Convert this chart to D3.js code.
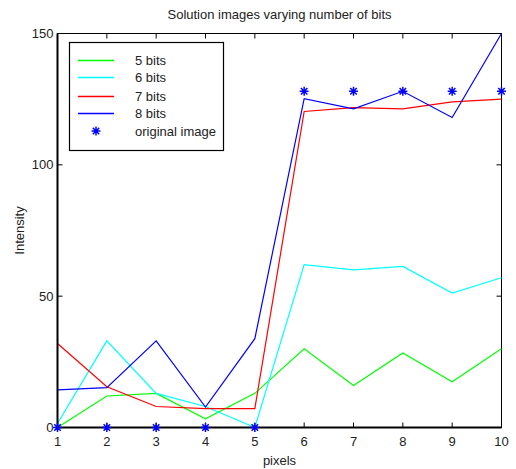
<!DOCTYPE html>
<html>
<head>
<meta charset="utf-8">
<script src="https://cdn.jsdelivr.net/npm/d3@7"></script>
<style>
  body { margin: 0; background: #fff; }
  text { font-family: "Liberation Sans", Arial, sans-serif; fill: #222; font-size: 13px; }
</style>
</head>
<body>
<svg id="chart" width="516" height="469"></svg>
<script>
// data
var pixels = [1, 2, 3, 4, 5, 6, 7, 8, 9, 10];
var bits5 = [0, 12, 13, 3.3, 13, 30, 16, 28.4, 17.4, 30];
var bits6 = [1.5, 33, 13, 8, 0, 62, 60, 61.3, 51.2, 57];
var bits7 = [32, 15.5, 8, 7.2, 7.2, 120.3, 121.8, 121.3, 124, 125];
var bits8 = [14.3, 15.2, 33, 7.8, 33.8, 125.2, 121.3, 128, 118, 150];
var original = [0, 0, 0, 0, 0, 128, 128, 128, 128, 128];
var yTicks = [0, 50, 100, 150];

var series = [
  { name: "5 bits", values: bits5, color: "#00ff00" },
  { name: "6 bits", values: bits6, color: "#00ffff" },
  { name: "7 bits", values: bits7, color: "#ff0000" },
  { name: "8 bits", values: bits8, color: "#0000ff" }
];

var svg = d3.select("#chart");
var plotL = 57.5, plotR = 501.5, plotT = 33.5, plotB = 427.5;

var x = d3.scaleLinear().domain([1, 10]).range([plotL, plotR]);
var y = d3.scaleLinear().domain([0, 150]).range([plotB, plotT]);

// title
svg.append("text")
  .attr("x", (plotL + plotR) / 2).attr("y", 18.5)
  .attr("text-anchor", "middle")
  .text("Solution images varying number of bits");

// box (top + right thin)
svg.append("rect")
  .attr("x", plotL).attr("y", plotT)
  .attr("width", plotR - plotL).attr("height", plotB - plotT)
  .attr("fill", "none").attr("stroke", "#000").attr("stroke-width", 1);

// inward ticks on all four sides
var tickLen = 5;
pixels.forEach(function(p) {
  svg.append("line").attr("x1", x(p)).attr("x2", x(p))
    .attr("y1", plotB).attr("y2", plotB - tickLen).attr("stroke", "#000");
  svg.append("line").attr("x1", x(p)).attr("x2", x(p))
    .attr("y1", plotT).attr("y2", plotT + tickLen).attr("stroke", "#000");
});
yTicks.forEach(function(t) {
  svg.append("line").attr("x1", plotL).attr("x2", plotL + tickLen)
    .attr("y1", y(t)).attr("y2", y(t)).attr("stroke", "#000");
  svg.append("line").attr("x1", plotR).attr("x2", plotR - tickLen)
    .attr("y1", y(t)).attr("y2", y(t)).attr("stroke", "#000");
});

// tick labels
svg.selectAll(".xl").data(pixels).enter().append("text")
  .attr("x", function(d) { return x(d); })
  .attr("y", plotB + 18)
  .attr("text-anchor", "middle")
  .text(function(d) { return d; });

svg.selectAll(".yl").data(yTicks).enter().append("text")
  .attr("x", plotL - 4)
  .attr("y", function(d) { return y(d) + 4.5; })
  .attr("text-anchor", "end")
  .text(function(d) { return d; });

svg.append("text")
  .attr("x", (plotL + plotR) / 2).attr("y", 465)
  .attr("text-anchor", "middle")
  .text("pixels");

svg.append("text")
  .attr("transform", "translate(24," + ((plotT + plotB) / 2) + ") rotate(-90)")
  .attr("text-anchor", "middle")
  .text("Intensity");

// lines
var line = d3.line()
  .x(function(d, i) { return x(pixels[i]); })
  .y(function(d) { return y(d); });

series.forEach(function(s) {
  svg.append("path")
    .datum(s.values)
    .attr("d", line)
    .attr("fill", "none")
    .attr("stroke", s.color)
    .attr("stroke-width", 1.2);
});

// axes lines (thick left and bottom)
svg.append("line").attr("x1", plotL).attr("x2", plotR)
  .attr("y1", plotB).attr("y2", plotB).attr("stroke", "#000").attr("stroke-width", 2);
svg.append("line").attr("x1", plotL).attr("x2", plotL)
  .attr("y1", plotT).attr("y2", plotB).attr("stroke", "#000").attr("stroke-width", 2);

// asterisk marker
function star(g, cx, cy, r) {
  var d = r * 0.72;
  g.append("path")
    .attr("d", "M" + (cx - r) + "," + cy + "H" + (cx + r) +
      "M" + cx + "," + (cy - r) + "V" + (cy + r) +
      "M" + (cx - d) + "," + (cy - d) + "L" + (cx + d) + "," + (cy + d) +
      "M" + (cx - d) + "," + (cy + d) + "L" + (cx + d) + "," + (cy - d))
    .attr("stroke", "#0000ff").attr("stroke-width", 1.5).attr("fill", "none");
}

var markers = svg.append("g");
original.forEach(function(v, i) { star(markers, x(pixels[i]), y(v), 4.5); });

// legend
var lg = svg.append("g");
lg.append("rect")
  .attr("x", 69.5).attr("y", 42.5).attr("width", 154).attr("height", 108)
  .attr("fill", "#fff").attr("stroke", "#000").attr("stroke-width", 1.2);

var rowY = [60.5, 77.5, 96.5, 113.5, 131];
series.forEach(function(s, i) {
  lg.append("line")
    .attr("x1", 78).attr("x2", 114)
    .attr("y1", rowY[i]).attr("y2", rowY[i])
    .attr("stroke", s.color).attr("stroke-width", 1.5);
  lg.append("text")
    .attr("x", 135).attr("y", rowY[i] + 4.5)
    .text(s.name);
});
star(lg, 96, rowY[4], 4.5);
lg.append("text")
  .attr("x", 135).attr("y", rowY[4] + 4.5)
  .text("original image");
</script>
</body>
</html>
